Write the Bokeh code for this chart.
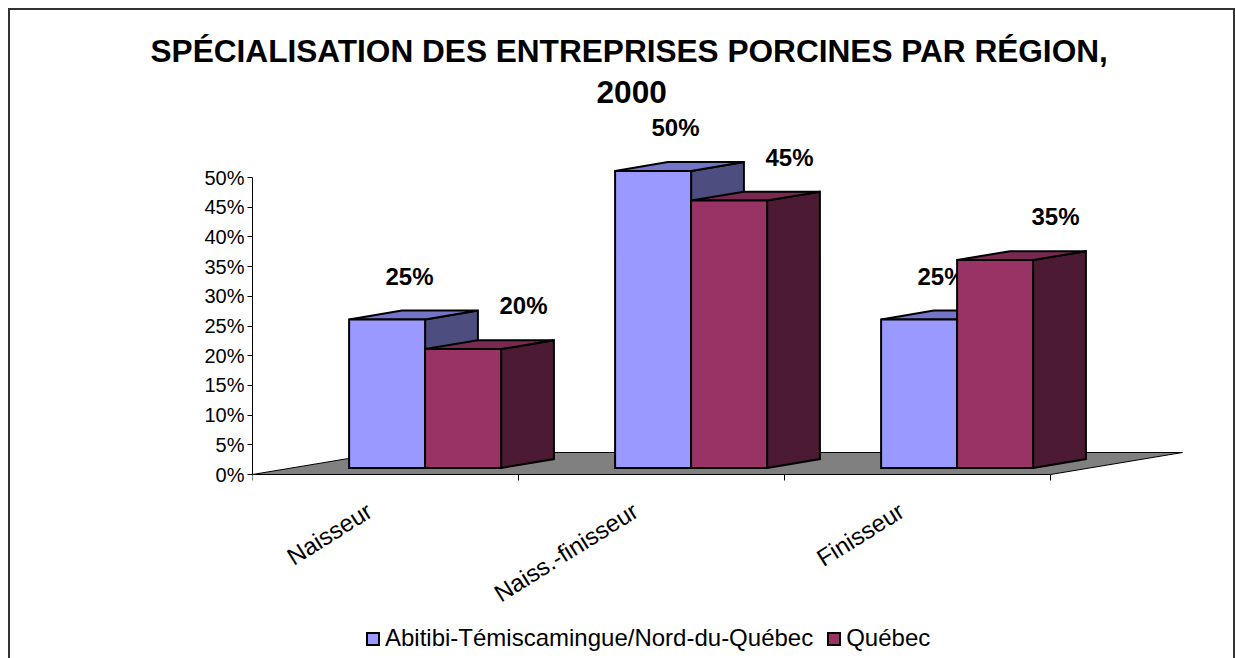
import math
from bokeh.plotting import figure
from bokeh.models import (Range1d, FixedTicker, PrintfTickFormatter, Title,
                          Legend, LegendItem)
from bokeh.core.properties import value
from bokeh.embed import file_html
from bokeh.resources import INLINE

# ---------------- data ----------------
categories = ["Naisseur", "Naiss.-finisseur", "Finisseur"]
series_names = ["Abitibi-Témiscamingue/Nord-du-Québec", "Québec"]
abitibi = [25, 50, 25]
quebec = [20, 45, 35]
y_ticks = [0, 5, 10, 15, 20, 25, 30, 35, 40, 45, 50]
title_line1 = "SPÉCIALISATION DES ENTREPRISES PORCINES PAR RÉGION,"
title_line2 = "2000"

# ---------------- style / geometry constants ----------------
FONT = "Liberation Sans"
W, H = 1223, 648          # requested size (2px css border around it)
CW, CH = W + 4, H + 4     # canvas size actually laid out by the browser
PX_PER_CAT = 266.0        # pixels per category unit
PX_PER_PCT = 5.94         # pixels per percent
FRAME_L, FRAME_T = 242, 97
AXIS_FROM_TOP = 367       # px from frame top to the 0% line
frame_w = CW - FRAME_L
frame_h = CH - FRAME_T

BAR_W = 1 / 3.5
GAP = 0.75 / 3.5
DEPTH_X = 132 / PX_PER_CAT
DEPTH_Y = 22 / PX_PER_PCT
F0, F1 = 0.3, 0.7
BD = F1 - F0

front_colors = ["#9999FF", "#993366"]
top_colors = ["#7474C8", "#7A2952"]
side_colors = ["#4D4D80", "#4D1A33"]
label_dx = [-4 / PX_PER_CAT, 34 / PX_PER_CAT]
label_dy = 39 / PX_PER_PCT
cat_dx = -16 / PX_PER_CAT
cat_dy = -34 / PX_PER_PCT
tick_len = 6 / PX_PER_PCT

y_top = AXIS_FROM_TOP / PX_PER_PCT
y_bottom = -(frame_h - AXIS_FROM_TOP) / PX_PER_PCT

p = figure(width=W, height=H, output_backend="svg", toolbar_location=None,
           title=None, x_axis_location=None,
           x_range=Range1d(0, frame_w / PX_PER_CAT),
           y_range=Range1d(y_bottom, y_top),
           min_border_left=FRAME_L, min_border_right=0,
           min_border_top=FRAME_T, min_border_bottom=0,
           background_fill_color="white", border_fill_color="white")
p.outline_line_color = None
p.xgrid.visible = False
p.ygrid.visible = False
p.styles = {"box-sizing": "content-box", "border": "2px solid #333333",
            "margin-left": "8px", "margin-top": "8px"}

n = len(categories)

# floor
p.patch([0, n, n + DEPTH_X, DEPTH_X], [0, 0, DEPTH_Y, DEPTH_Y],
        fill_color="#808080", line_color="black", line_width=1)

# category axis: line, boundary ticks, rotated labels
p.segment(x0=[0], y0=[0], x1=[n], y1=[0], line_color="black", line_width=1)
bounds = list(range(n + 1))
p.segment(x0=bounds, y0=[0] * len(bounds), x1=bounds, y1=[-tick_len] * len(bounds),
          line_color="black", line_width=1)
p.text(x=[i + 0.5 + cat_dx for i in range(n)], y=[cat_dy] * n, text=categories,
       angle=math.radians(32), text_align="right", text_baseline="middle",
       text_font=value(FONT), text_font_size="24px", text_color="black")

front_renderers = []
for s, vals in enumerate([abitibi, quebec]):
    fx, fy, tx, ty, sx, sy = [], [], [], [], [], []
    lx, ly, lt = [], [], []
    for i, v in enumerate(vals):
        x0 = i + GAP + s * BAR_W + F0 * DEPTH_X
        x1 = x0 + BAR_W
        y0 = F0 * DEPTH_Y
        y1 = v + y0
        ddx, ddy = BD * DEPTH_X, BD * DEPTH_Y
        fx.append([x0, x1, x1, x0]); fy.append([y0, y0, y1, y1])
        tx.append([x0, x1, x1 + ddx, x0 + ddx]); ty.append([y1, y1, y1 + ddy, y1 + ddy])
        sx.append([x1, x1 + ddx, x1 + ddx, x1]); sy.append([y0, y0 + ddy, y1 + ddy, y1])
        lx.append((x0 + x1) / 2 + ddx / 2 + label_dx[s])
        ly.append(y1 + ddy / 2 + label_dy)
        lt.append(f"{v}%")
    common = dict(line_color="black", line_width=2, line_join="miter")
    p.patches(sx, sy, fill_color=side_colors[s], **common)
    p.patches(tx, ty, fill_color=top_colors[s], **common)
    r = p.patches(fx, fy, fill_color=front_colors[s], **common)
    front_renderers.append(r)
    p.text(lx, ly, text=lt, text_font=value(FONT), text_font_style="bold",
           text_font_size="24px", text_align="center", text_baseline="middle",
           text_color="black")

# y axis
ya = p.yaxis[0]
ya.bounds = (0, 50)
ya.ticker = FixedTicker(ticks=y_ticks, minor_ticks=[])
ya.formatter = PrintfTickFormatter(format="%d%%")
ya.major_tick_out = 5
ya.major_tick_in = 0
ya.minor_tick_line_color = None
ya.axis_line_color = "black"
ya.major_tick_line_color = "black"
ya.major_label_text_font = FONT
ya.major_label_text_font_size = "20px"
ya.major_label_text_color = "black"
ya.major_label_standoff = 3

# titles (outermost added last)
p.add_layout(Title(text=title_line2, align="left", offset=344,
                   text_font=FONT, text_font_size="31.6px",
                   text_font_style="bold", text_color="black"), "above")
p.add_layout(Title(text=title_line1, align="left", offset=-102,
                   text_font=FONT, text_font_size="31.6px",
                   text_font_style="bold", text_color="black"), "above")

legend = Legend(items=[LegendItem(label=series_names[k], renderers=[front_renderers[k]])
                       for k in range(2)],
                orientation="horizontal", location=(113, 10),
                label_text_font=FONT, label_text_font_size="24px",
                label_text_color="black", glyph_width=15, glyph_height=15,
                label_standoff=5, spacing=13, padding=0, margin=0,
                border_line_color=None, background_fill_alpha=0)
p.add_layout(legend)

open("out.html", "w").write(file_html(p, INLINE))
